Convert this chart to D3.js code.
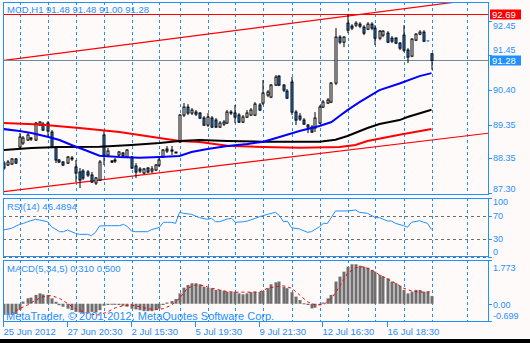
<!DOCTYPE html>
<html><head><meta charset="utf-8">
<script src="https://cdn.jsdelivr.net/npm/d3@7/dist/d3.min.js"></script>
<style>html,body{margin:0;padding:0;background:#000}svg{display:block}</style>
</head><body><svg id="c" width="530" height="343"></svg>
<script>
// ---------- DATA ----------
const symbolTitle = "MCD,H1  91.48 91.48 91.00 91.28";
const openP  = [88.20,88.14,88.17,88.32,88.68,88.80,88.89,88.92,88.89,89.34,89.37,89.40,89.13,88.68,88.29,88.23,88.20,88.35,88.08,87.93,87.96,87.93,87.84,87.60,87.69,89.04,88.44,88.26,88.29,88.44,88.50,88.38,88.38,88.11,88.02,87.90,88.05,87.96,87.99,88.14,88.38,88.62,88.59,88.53,88.83,89.64,89.88,89.70,89.73,89.70,89.55,89.34,89.55,89.49,89.28,89.37,89.40,89.73,89.70,89.64,89.43,89.58,89.64,89.64,89.94,90.00,90.24,90.18,90.54,90.81,90.54,90.36,90.63,89.73,89.61,89.49,89.34,89.28,89.25,89.40,89.88,90.00,90.03,90.60,91.98,91.83,92.40,92.31,92.34,92.37,92.28,92.22,92.37,92.25,91.95,92.04,92.10,91.95,91.95,91.80,92.04,91.59,91.41,91.89,92.07,92.13,91.87,91.48];
const highP  = [88.26,88.29,88.35,88.35,89.10,89.01,89.10,88.98,89.43,89.46,89.43,89.46,89.19,88.71,88.32,88.26,88.41,88.41,88.29,88.05,88.02,87.99,87.93,87.78,88.29,89.19,88.65,88.29,88.35,88.56,88.53,88.62,88.41,88.20,88.08,88.05,88.08,88.11,88.17,88.35,88.62,88.71,88.71,88.53,89.67,90.00,89.97,89.85,89.79,89.73,89.61,89.70,89.61,89.55,89.46,89.49,89.79,89.79,89.94,89.70,89.64,89.79,89.85,90.03,90.00,90.69,90.39,90.57,90.84,90.84,90.57,90.42,90.78,89.79,89.70,89.55,89.37,89.34,89.73,89.94,90.09,90.15,90.63,92.25,92.04,92.01,92.67,92.37,92.46,92.43,92.34,92.43,92.43,92.34,92.19,92.19,92.16,92.01,91.98,91.83,92.34,91.65,91.95,92.10,92.19,92.19,91.89,91.48];
const lowP   = [87.99,88.11,88.14,88.17,88.62,88.74,88.86,88.86,88.86,89.31,89.16,88.98,88.65,88.20,88.20,88.11,88.17,88.26,87.63,87.45,87.69,87.78,87.60,87.54,87.66,88.14,88.38,88.20,88.20,88.41,88.38,88.35,88.02,87.75,87.90,87.87,87.90,87.90,87.96,88.08,88.35,88.50,88.44,88.50,88.80,89.58,89.64,89.64,89.61,89.52,89.31,89.28,89.25,89.25,89.25,89.31,89.37,89.64,89.40,89.40,89.40,89.55,89.61,89.61,89.76,89.94,90.18,90.15,90.51,90.51,90.33,90.12,89.64,89.34,89.46,89.34,89.10,89.10,89.13,89.37,89.85,89.97,90.00,90.54,91.77,91.68,92.10,92.19,92.28,92.25,92.04,92.19,92.19,91.74,91.89,91.98,91.80,91.80,91.77,91.59,91.53,91.20,91.38,91.86,92.04,91.83,91.83,91.00];
const closeP = [88.05,88.23,88.32,88.20,88.98,88.95,89.04,88.95,89.40,89.43,89.19,89.16,88.68,88.29,88.23,88.14,88.38,88.33,87.90,87.69,87.75,87.84,87.63,87.75,88.23,88.44,88.56,88.23,88.26,88.53,88.41,88.59,88.05,87.93,87.96,88.02,87.93,88.02,88.14,88.29,88.59,88.56,88.56,88.51,89.64,89.88,89.70,89.79,89.67,89.55,89.34,89.58,89.28,89.28,89.40,89.43,89.73,89.70,89.58,89.43,89.58,89.70,89.79,89.97,89.79,90.30,90.33,90.54,90.78,90.54,90.39,90.15,89.73,89.49,89.52,89.37,89.28,89.13,89.55,89.88,90.03,90.09,90.60,91.98,91.83,91.98,92.19,92.25,92.40,92.31,92.10,92.37,92.25,91.95,92.16,92.16,91.83,91.86,91.80,91.65,91.59,91.38,91.92,92.07,92.13,91.86,91.86,91.28];

// moving averages (bar index, price)
const maBlueBars = [0,4,7,11,14,17,21,24,29,34,39,44,47,51,56,61,65,69,74,79,82,84,86,89,94,99,104,107];
const maBlueVals = [89.22,89.16,89.10,88.99,88.89,88.74,88.56,88.42,88.38,88.36,88.38,88.41,88.53,88.62,88.71,88.77,88.84,88.98,89.16,89.31,89.43,89.61,89.79,90.03,90.39,90.59,90.81,90.90];
const maBlackBars = [0,7,14,24,32,39,44,49,56,65,74,79,83,86,91,94,99,101,107];
const maBlackVals = [88.59,88.65,88.68,88.69,88.74,88.80,88.86,88.89,88.86,88.84,88.84,88.84,88.90,89.01,89.25,89.37,89.49,89.58,89.80];
const maRedBars = [0,9,19,29,39,44,49,56,65,74,84,88,91,99,107];
const maRedVals = [89.40,89.36,89.25,89.13,88.95,88.86,88.83,88.72,88.68,88.66,88.68,88.74,88.86,89.05,89.22];

// trend channel anchors [bar, price]
const trendUpper = [[0, 91.28], [107, 92.94]];
const trendLower = [[0, 87.34], [107, 88.89]];
const hLineRed = 92.69;
const bidPrice = 91.28;

// price axis ticks
const priceTicks = ["92.45","91.45","90.40","89.35","88.35","87.30"];

// RSI(14) (bar, value)
const rsiBars = [0,2,4,5,6,8,9,11,12,14,15,16,18,19,21,22,23,24,26,27,29,30,31,32,33,36,37,39,40,41,42,43,44,45,47,49,51,52,53,54,56,57,58,60,61,63,64,66,68,69,70,71,72,74,76,77,79,80,81,83,84,86,88,89,91,93,94,96,97,98,100,101,102,104,105,106,107];
const rsiVals = [45.8,48.6,55.4,57,59.8,63.8,62.7,59.8,51.4,42.9,42.9,45.8,40.1,38.4,38.4,36.2,41.8,52.5,53.1,53.1,53.1,55.4,51.4,44,42.9,42.9,46.3,50.3,58.8,58.8,58.8,57,75.7,74,72.3,66.7,63.8,65.6,59.8,59.8,64.4,65.6,58.8,59.8,61,65.6,68.3,72.3,75.7,70,59.8,60.5,49.7,47.5,41.8,43,51.4,57,57,78,78,78,79.7,75.7,74,66.7,66.7,61,61,57,53.1,50.3,58.8,61.5,59,57,46.49];
const rsiLevels = [70, 30];
const rsiTickLabels = ["100","70","30","0"];
const rsiTickVals = [100,70,30,0];

// MACD(5,34,5) histogram per bar, signal (bar, value)
const macdHist = [-0.45,-0.45,-0.45,-0.42,-0.25,0.09,0.22,0.25,0.36,0.42,0.38,0.36,0.22,0.08,-0.06,-0.12,-0.2,-0.26,-0.33,-0.35,-0.4,-0.35,-0.33,-0.35,-0.26,-0.08,-0.05,-0.03,-0.03,-0.05,-0.08,-0.12,-0.2,-0.23,-0.26,-0.3,-0.3,-0.3,-0.26,-0.2,-0.05,0.05,0.11,0.19,0.42,0.65,0.76,0.83,0.83,0.79,0.69,0.65,0.63,0.56,0.56,0.52,0.49,0.47,0.49,0.42,0.38,0.42,0.47,0.49,0.47,0.52,0.63,0.79,0.87,0.9,0.69,0.63,0.47,0.29,0.15,0.02,-0.05,-0.19,-0.16,-0.05,0.05,0.22,0.36,0.9,1.1,1.3,1.5,1.6,1.6,1.54,1.5,1.46,1.37,1.3,1.17,1.1,1.03,0.9,0.83,0.73,0.56,0.42,0.49,0.56,0.56,0.49,0.49,0.31];
const signalBars = [3,4,6,8,10,12,14,16,18,20,22,24,26,28,30,32,34,36,38,40,42,44,46,48,50,52,54,56,58,60,62,64,66,68,70,72,74,76,78,80,82,84,86,88,90,92,94,96,98,100,102,104,106,107];
const signalVals = [-0.3,-0.2,-0.05,0.15,0.29,0.33,0.22,0.01,-0.2,-0.33,-0.43,-0.45,-0.33,-0.16,-0.08,-0.05,-0.12,-0.2,-0.23,-0.2,-0.05,0.22,0.63,0.76,0.73,0.63,0.56,0.49,0.47,0.47,0.47,0.47,0.63,0.69,0.73,0.63,0.36,0.08,-0.05,-0.04,0.22,0.69,1.23,1.46,1.5,1.37,1.17,1.0,0.83,0.63,0.52,0.47,0.48,0.50];
const macdTickLabels = ["1.773","0.00","-0.699"];
const macdTickVals = [1.773, 0, -0.699];

// time axis
const dayStartBars = [4,11,18,25,32,39,44,51,58,65,72,79,86,93,100,107,116];
const timeLabelBars = [0,16,32,48,64,80,96];
const timeLabels = ["25 Jun 2012","27 Jun 20:30","2 Jul 15:30","5 Jul 19:30","9 Jul 21:30","12 Jul 16:30","16 Jul 18:30"];

// ---------- DRAW ----------
const BG = "#FFFAFA", BLUE = "#1E90FF", FONT = "Liberation Sans, Arial, sans-serif";
const svg = d3.select("#c");
svg.append("rect").attr("width",530).attr("height",343).attr("fill",BG);
svg.append("rect").attr("x",0).attr("y",339).attr("width",530).attr("height",4).attr("fill","#000");

const L = 3, R = 488;
const panels = {main:[2,194], rsi:[198,257], macd:[260,321]};

const x = d3.scaleLinear().domain([0,107]).range([3.5,431.5]);
const y = d3.scaleLinear().domain([87.30,92.69]).range([193.0,13.5]);
const yr = d3.scaleLinear().domain([0,100]).range([257,198]);
const ym = d3.scaleLinear().domain([-0.699,1.773]).range([321,260]);

const defs = svg.append("defs");
Object.entries(panels).forEach(([k,[t,b]])=>{
  defs.append("clipPath").attr("id","clip-"+k).append("rect")
    .attr("x",L+1).attr("y",t+1).attr("width",R-L-1).attr("height",b-t-1);
});

// grid
Object.entries(panels).forEach(([k,[t,b]])=>{
  const g = svg.append("g").attr("clip-path","url(#clip-"+k+")");
  g.selectAll("line").data(dayStartBars).join("line")
    .attr("x1",d=>Math.round(x(d))+0.5).attr("x2",d=>Math.round(x(d))+0.5)
    .attr("y1",t).attr("y2",b)
    .attr("stroke",BLUE).attr("stroke-width",1).attr("stroke-dasharray","3,3");
});

// ----- main panel -----
const gm = svg.append("g").attr("clip-path","url(#clip-main)");
function extend(pts){
  const [[b1,p1],[b2,p2]] = pts;
  const s = (p2-p1)/(b2-b1);
  const bL = x.invert(L), bR = x.invert(R);
  return [[x(bL), y(p1+s*(bL-b1))],[x(bR), y(p1+s*(bR-b1))]];
}
[trendUpper, trendLower].forEach(tl=>{
  const e = extend(tl);
  gm.append("line").attr("x1",e[0][0]).attr("y1",e[0][1]).attr("x2",e[1][0]).attr("y2",e[1][1])
    .attr("stroke","#FF0000").attr("stroke-width",1.2);
});
gm.append("line").attr("x1",L).attr("x2",R).attr("y1",Math.round(y(hLineRed))+0.5).attr("y2",Math.round(y(hLineRed))+0.5)
  .attr("stroke","#FF0000").attr("stroke-width",1);
gm.append("line").attr("x1",L).attr("x2",R).attr("y1",Math.round(y(bidPrice))+0.5).attr("y2",Math.round(y(bidPrice))+0.5)
  .attr("stroke","#778899").attr("stroke-width",1);

// candles
const idx = d3.range(openP.length);
const cg = gm.append("g");
idx.forEach(i=>{
  const cx = Math.round(x(i));
  const o=openP[i], c=closeP[i], h=highP[i], l=lowP[i];
  const bull = c > o, doji = Math.abs(c-o) < 0.015;
  const col = doji ? BLUE : "#000";
  cg.append("line").attr("x1",cx).attr("x2",cx).attr("y1",y(h)).attr("y2",y(l))
    .attr("stroke",col).attr("stroke-width",1);
  if (doji){
    cg.append("line").attr("x1",cx-1.5).attr("x2",cx+1.5).attr("y1",y(o)).attr("y2",y(o))
      .attr("stroke",BLUE).attr("stroke-width",1);
  } else {
    const top = y(Math.max(o,c)), bot = y(Math.min(o,c));
    cg.append("rect").attr("x",cx-1).attr("y",top).attr("width",2).attr("height",Math.max(1,bot-top))
      .attr("fill", bull ? "#FFFFFF" : BLUE).attr("stroke","#000").attr("stroke-width",1);
  }
});

// moving averages
const lineP = d3.line().x(d=>x(d[0])).y(d=>y(d[1]));
[[maRedBars,maRedVals,"#FF0000"],[maBlackBars,maBlackVals,"#000000"],[maBlueBars,maBlueVals,"#0000FF"]].forEach(([b,v,c])=>{
  gm.append("path").attr("d",lineP(b.map((d,i)=>[d,v[i]]))).attr("fill","none")
    .attr("stroke",c).attr("stroke-width",2);
});

// ----- RSI panel -----
const gr = svg.append("g").attr("clip-path","url(#clip-rsi)");
rsiLevels.forEach(v=>{
  gr.append("line").attr("x1",L).attr("x2",R).attr("y1",Math.round(yr(v))+0.5).attr("y2",Math.round(yr(v))+0.5)
    .attr("stroke","#6E6E6E").attr("stroke-dasharray","3,3");
});
gr.append("path").attr("d",d3.line().x(d=>x(d[0])).y(d=>yr(d[1]))(rsiBars.map((d,i)=>[d,rsiVals[i]])))
  .attr("fill","none").attr("stroke",BLUE).attr("stroke-width",1);

// ----- MACD panel -----
const gmc = svg.append("g").attr("clip-path","url(#clip-macd)");
gmc.selectAll("rect.h").data(macdHist).join("rect").attr("class","h")
  .attr("x",(d,i)=>Math.round(x(i))-1.5).attr("width",3)
  .attr("y",d=>Math.min(ym(0),ym(d))).attr("height",d=>Math.max(1,Math.abs(ym(d)-ym(0))))
  .attr("fill","#6E6E6E");
gmc.append("path").attr("d",d3.line().x(d=>x(d[0])).y(d=>ym(d[1]))(signalBars.map((d,i)=>[d,signalVals[i]])))
  .attr("fill","none").attr("stroke","#FF0000").attr("stroke-width",1).attr("stroke-dasharray","3,3");

// ----- borders -----
svg.append("line").attr("x1",L).attr("x2",R).attr("y1",257.5).attr("y2",257.5)
  .attr("stroke","#6E6E6E").attr("stroke-dasharray","3,3");
Object.entries(panels).forEach(([k,[t,b]])=>{
  svg.append("rect").attr("x",L+0.5).attr("y",t+0.5).attr("width",R-L).attr("height",b-t - (k==="rsi"?1:0))
    .attr("fill","none").attr("stroke",BLUE).attr("stroke-width",1);
});

// ----- texts -----
const txt = (s,xx,yy,size,anchor,col)=>svg.append("text").attr("x",xx).attr("y",yy).text(s)
  .attr("font-family",FONT).attr("font-size",size).attr("fill",col||BLUE).attr("text-anchor",anchor||"start");

txt(symbolTitle, 7, 13, 9.5);
txt("RSI(14) 46.4894", 7, 210, 9.5);
txt("MACD(5,34,5) 0.310 0.500", 7, 272, 9.5);
txt("MetaTrader, \u00A9 2001-2012, MetaQuotes Software Corp.", 6, 320, 11);

// price axis (labels kept clear of the current-price boxes)
const ag = svg.append("g");
const boxes = [[hLineRed,"#FF0000"],[bidPrice,BLUE]];
priceTicks.forEach(t=>{
  const yy = Math.round(y(+t))+0.5;
  ag.append("line").attr("x1",R).attr("x2",R+4).attr("y1",yy).attr("y2",yy).attr("stroke",BLUE);
  let ty = Math.min(yy+2, 192);
  boxes.forEach(([p])=>{
    const by = Math.round(y(p))+0.5;
    if (Math.abs(ty-3-by) < 12) ty = (ty-3 > by) ? by + 5.5 + 8.5 : by - 5.5 - 2.2;
  });
  ag.append("text").attr("x",R+5).attr("y",ty).text(t).attr("font-family",FONT).attr("font-size",9).attr("fill",BLUE);
});
boxes.forEach(([price,col])=>{
  const yy = Math.round(y(price))+0.5;
  ag.append("rect").attr("x",R+2).attr("y",yy-5).attr("width",31).attr("height",10).attr("fill",col);
  ag.append("text").attr("x",R+4).attr("y",yy+3.5).text(price.toFixed(2)).attr("font-family",FONT).attr("font-size",9.5).attr("fill","#fff");
});

// RSI axis
rsiTickVals.forEach((v,i)=>{
  const yy = Math.round(yr(v))+0.5;
  ag.append("line").attr("x1",R).attr("x2",R+4).attr("y1",yy).attr("y2",yy).attr("stroke",BLUE);
  const ty = Math.max(205, Math.min(yy+2.5, 255));
  ag.append("text").attr("x",R+5).attr("y",ty).text(rsiTickLabels[i]).attr("font-family",FONT).attr("font-size",9).attr("fill",BLUE);
});
// MACD axis
macdTickVals.forEach((v,i)=>{
  const yy = Math.round(ym(v))+0.5;
  ag.append("line").attr("x1",R).attr("x2",R+4).attr("y1",yy).attr("y2",yy).attr("stroke",BLUE);
  const ty = Math.max(271, Math.min(yy+3, 319));
  ag.append("text").attr("x",R+5).attr("y",ty).text(macdTickLabels[i]).attr("font-family",FONT).attr("font-size",9).attr("fill",BLUE);
});

// time axis
timeLabelBars.forEach((b,i)=>{
  const xx = Math.round(x(b))-0.5;
  ag.append("line").attr("x1",xx).attr("x2",xx).attr("y1",322).attr("y2",327).attr("stroke",BLUE);
  ag.append("text").attr("x",xx).attr("y",335).text(timeLabels[i]).attr("font-family",FONT).attr("font-size",9.5).attr("fill",BLUE);
});
</script></body></html>
